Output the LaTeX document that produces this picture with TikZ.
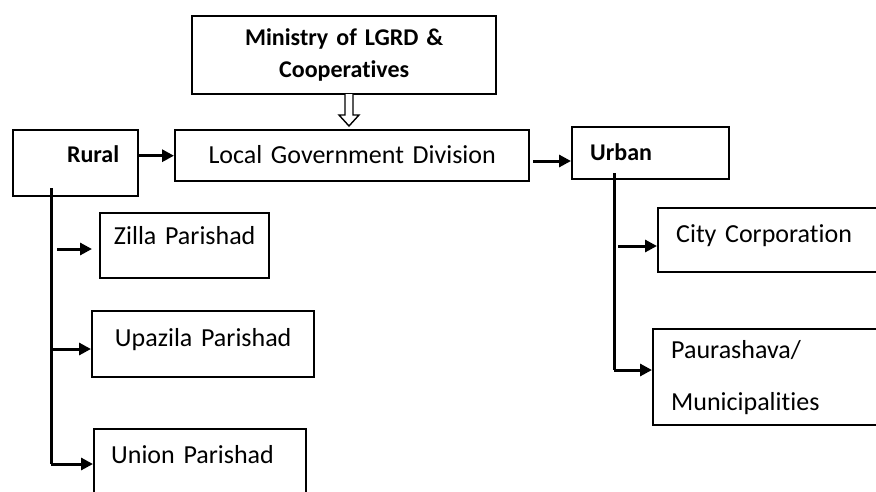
\documentclass[tikz,border=0pt]{standalone}
\usepackage{fontspec}
\setmainfont{Carlito}[Ligatures=NoCommon]
\usetikzlibrary{arrows.meta}
\usetikzlibrary{calc}

\begin{document}
\begin{tikzpicture}[x=1pt, y=-1pt,
    >={Triangle[length=12pt,width=12pt]},
    box/.style={draw, line width=2.4pt, anchor=north west, inner sep=0pt, font=\fontsize{26}{31}\selectfont},
    head/.style={font=\fontsize{24}{32}\selectfont\bfseries},
    lift/.style={text height=18pt, text depth=#1},
    lift/.default=6pt,
    link/.style={line width=3pt},
    hollow/.style={line width=1.4pt, fill=white}]
                \clip (0,0) rectangle (876,491);
                \node[box, head, align=center, text width=304pt, minimum height=78pt] (ministry) at (191,15) {Ministry of LGRD \&\\Cooperatives};
                \node[box, align=center, text width=354pt, minimum height=51pt, lift=3pt] (lgd) at (174,129) {Local Government Division};
                \node[box, head, align=right, inner xsep=19pt, text width=87pt, minimum height=66pt, lift=19pt] (rural) at (12,129) {Rural};
                \node[box, head, align=left, inner xsep=18pt, text width=121pt, minimum height=52pt, lift=3pt] (urban) at (571,126) {Urban};
                \node[box, align=center, text width=169pt, minimum height=65pt, lift=20pt] (zilla) at (99,212) {Zilla Parishad};
                \node[box, align=center, text width=222pt, minimum height=66pt, lift=13pt] (upazila) at (91,310) {Upazila Parishad};
                \node[box, align=left, inner xsep=17pt, text width=178pt, minimum height=66pt, lift=16pt] (union) at (93,428) {Union Parishad};
                \node[box, align=left, inner xsep=18pt, text width=207pt, minimum height=64pt, lift=13pt] (city) at (657,207) {City Corporation};
                \node[box, align=left, inner xsep=18pt, text width=212pt, minimum height=96pt, font=\fontsize{26}{52}\selectfont] (paurashava) at (652,328) {Paurashava/\\Municipalities};
                \coordinate (hollowtop) at (349,94);
                \coordinate (ruraltop) at (51,188);
                \coordinate (ruralend) at (51,464);
                \coordinate (zillatail) at (57,249);
                \coordinate (upazilatail) at (51,349);
                \coordinate (urbantail) at (533,161);
                \coordinate (urbantop) at (614,173);
                \coordinate (urbanend) at (614,370);
                \coordinate (citytail) at (618,246);
                \draw[hollow] (hollowtop) ++(-4,0) -- ++(0,21) -- ++(-6,0) -- ++(10,11) -- ++(10,-11) -- ++(-6,0) -- ++(0,-21);
                \draw[link,->] (lgd.west -| rural.east) to (lgd.west);
                \draw[link,->] (urbantail) to (urbantail -| urban.west);
                \draw[link] (ruraltop) to (ruralend);
                \draw[link,->,shorten >=7pt] (zillatail) to (zillatail -| zilla.west);
                \draw[link,->] (upazilatail) to (upazilatail -| upazila.west);
                \draw[link,->] (ruralend) to (ruralend -| union.west);
                \draw[link] (urbantop) to (urbanend);
                \draw[link,->] (citytail) to (citytail -| city.west);
                \draw[link,->] (urbanend) to (urbanend -| paurashava.west);
            \end{tikzpicture}
\end{document}
